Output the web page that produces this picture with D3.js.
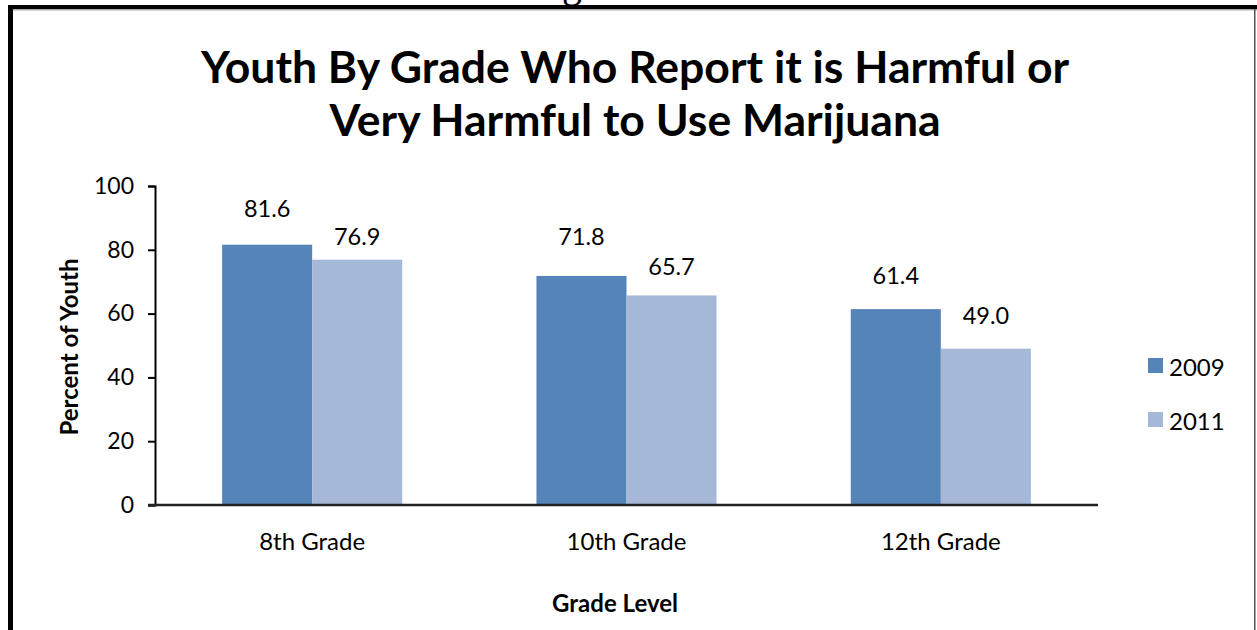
<!DOCTYPE html>
<html><head><meta charset="utf-8">
<script src="https://cdn.jsdelivr.net/npm/d3@7"></script>
<style>html,body{margin:0;padding:0;background:#fff;overflow:hidden}</style>
</head><body>
<svg id="c" width="1257" height="630"></svg>
<script>
const categories = ["8th Grade", "10th Grade", "12th Grade"];
const seriesNames = ["2009", "2011"];
const values2009 = [81.6, 71.8, 61.4];
const values2011 = [76.9, 65.7, 49.0];
const yTicks = [0, 20, 40, 60, 80, 100];
const titleLines = ["Youth By Grade Who Report it is Harmful or", "Very Harmful to Use Marijuana"];
const colors = ["#5584B8", "#A5B8D8"];
// label lift above each bar top (px), per series, per category (manual placement as in original)
const labelLift = [[28, 31, 25], [15, 20, 25]];

const svg = d3.select("#c");
const W = 1257, H = 630;
const FONT = "Lato, 'Open Sans', sans-serif";
svg.append("rect").attr("width", W).attr("height", H).attr("fill", "#fff");

// frame
svg.append("text").attr("x", 572).attr("y", -3).attr("text-anchor", "middle")
  .attr("font-family", "'Liberation Serif', serif").attr("font-size", 40).text("g");
svg.append("rect").attr("x", 8).attr("y", 5).attr("width", W - 8).attr("height", 4).attr("fill", "#000");
svg.append("rect").attr("x", 13).attr("y", 9).attr("width", W - 13).attr("height", 1.5).attr("fill", "#aaa");
svg.append("rect").attr("x", 8).attr("y", 5).attr("width", 5).attr("height", H).attr("fill", "#000");
svg.append("rect").attr("x", 1254).attr("y", 9).attr("width", 1.5).attr("height", H).attr("fill", "#555");

const m = {left: 155, right: 1098, top: 186, bottom: 505};
const x0 = d3.scaleBand().domain(categories).range([m.left, m.right]).paddingInner(0.427).paddingOuter(0.2135);
const x1 = d3.scaleBand().domain(seriesNames).range([0, x0.bandwidth()]);
const y = d3.scaleLinear().domain([0, 100]).range([m.bottom, m.top]);

// title
svg.append("g").selectAll("text").data(titleLines).join("text")
  .attr("x", 635).attr("y", (d, i) => 83 + i * 53).attr("text-anchor", "middle")
  .attr("font-family", FONT).attr("font-weight", "bold").attr("font-size", 44.5).attr("fill", "#000")
  .text(d => d);

// bars
const series = [values2009, values2011];
seriesNames.forEach((s, si) => {
  const g = svg.append("g");
  g.selectAll("rect").data(categories).join("rect")
    .attr("x", (c) => x0(c) + x1(s))
    .attr("y", (c, i) => y(series[si][i]))
    .attr("width", x1.bandwidth())
    .attr("height", (c, i) => y(0) - y(series[si][i]))
    .attr("fill", colors[si]);
  g.selectAll("text").data(categories).join("text")
    .attr("x", (c) => x0(c) + x1(s) + x1.bandwidth() / 2)
    .attr("y", (c, i) => y(series[si][i]) - labelLift[si][i])
    .attr("text-anchor", "middle").attr("font-family", FONT).attr("font-size", 23.5).attr("fill", "#000")
    .text((c, i) => series[si][i].toFixed(1));
});

// y axis
const yAxis = d3.axisLeft(y).tickValues(yTicks).tickSize(7).tickPadding(14);
const ya = svg.append("g").attr("transform", `translate(${m.left},0)`).call(yAxis);
ya.select(".domain").attr("stroke", "#000").attr("stroke-width", 2);
ya.selectAll(".tick line").attr("stroke", "#000").attr("stroke-width", 2);
ya.selectAll(".tick text").attr("font-family", FONT).attr("font-size", 23).attr("fill", "#000");

// x axis
const xAxis = d3.axisBottom(x0).tickSize(0).tickPadding(28);
const xa = svg.append("g").attr("transform", `translate(0,${m.bottom})`).call(xAxis);
xa.select(".domain").attr("stroke", "#222").attr("stroke-width", 2.5).attr("d", `M${m.left - 7},0H${m.right}`);
xa.selectAll(".tick text").attr("font-family", FONT).attr("font-size", 24).attr("fill", "#000");

// axis titles
svg.append("text").attr("transform", "translate(78,347) rotate(-90)").attr("text-anchor", "middle")
  .attr("font-family", FONT).attr("font-weight", "bold").attr("font-size", 24).text("Percent of Youth");
svg.append("text").attr("x", 615).attr("y", 612).attr("text-anchor", "middle")
  .attr("font-family", FONT).attr("font-weight", "bold").attr("font-size", 24).text("Grade Level");

// legend
const lg = svg.append("g").selectAll("g").data(seriesNames).join("g")
  .attr("transform", (d, i) => `translate(1148,${358 + i * 54})`);
lg.append("rect").attr("width", 15).attr("height", 15).attr("fill", (d, i) => colors[i]);
lg.append("text").attr("x", 21).attr("y", 18).attr("font-family", FONT).attr("font-size", 24).text(d => d);
</script>
</body></html>
